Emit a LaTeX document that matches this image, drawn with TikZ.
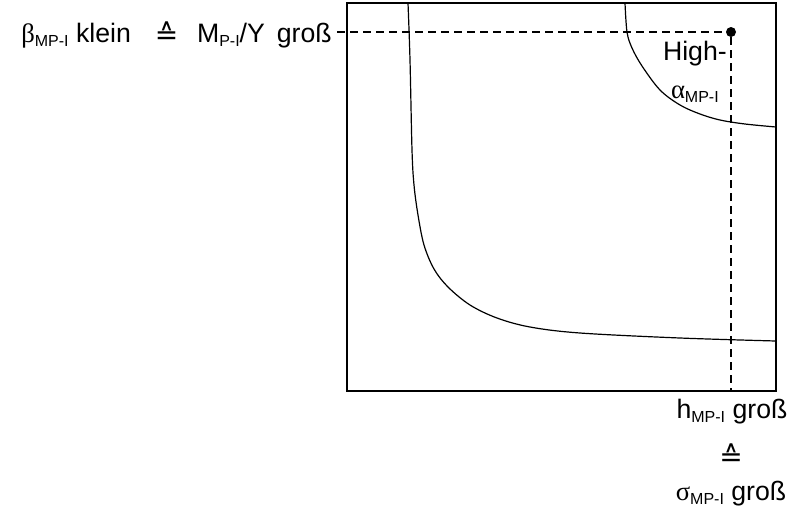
\documentclass[tikz,border=0pt]{standalone}
\usepackage{fontspec}
\setmainfont{Liberation Sans}
\newfontfamily\grk{Liberation Serif}
\newfontfamily\symf{DejaVu Sans}
\newcommand\lo[1]{\raisebox{-3.6pt}{\fontsize{12}{12}\selectfont #1}}
\newcommand\corr{\raisebox{-2pt}{\symf\fontsize{21}{21}\selectfont ≙}}
\usetikzlibrary{calc, positioning}

\begin{document}
\begin{tikzpicture}[
    x=0.75pt, y=-0.75pt,
    lbl/.style={inner sep=0pt, font=\fontsize{20}{24}\selectfont},
    frame/.style={draw, line width=1pt},
    curve/.style={line width=0.9pt, smooth, tension=0.55},
    guide/.style={line width=1.5pt, dash pattern=on 6pt off 3.75pt},
    hpdot/.style={circle, fill, inner sep=0pt, minimum size=7.5pt}
]
    \useasboundingbox (0,0) rectangle (795,515);

    % Diagram box
    \draw[frame] (347,3) rectangle (776,391);
    \coordinate (foot) at (731,391);

    % Iso-curves
    \draw[curve] plot coordinates {(408,3) (410,60) (412,150) (414,185) (418,215) (424,245)
        (434,269) (448,287) (470,305) (497,318) (530,327) (580,333) (680,338) (776,341)};
    \draw[curve] plot coordinates {(625,3) (627,32) (632,48) (642,66) (660,90) (680,105)
        (700,114) (720,120) (745,124) (776,127)};

    % High-alpha point
    \node[hpdot] (hp) at (731,32) {};
    \node[lbl, anchor=base east] (high) at (727,60) {High-};
    \node[lbl, anchor=base] (alpha) at ($(high.base)+(0,38)$) {{\grk α}\lo{MP-I}};

    % Axis labels
    \node[lbl, anchor=base east, inner xsep=3.75pt] (beta) at (337,42)
        {{\grk β}\lo{MP-I} klein\hspace{18pt}\corr\hspace{14pt}M\lo{P-I}/Y\hspace{9pt}groß};
    \node[lbl, anchor=base] (h) at (732,418) {h\lo{MP-I} groß};
    \node[lbl] (eq) at (731,455) {\corr};
    \node[lbl, anchor=base] (sigma) at (731,500) {{\grk σ}\lo{MP-I} groß};

    % Dashed guides
    \draw[guide] (beta.east |- hp) -- (hp);
    \draw[guide] (hp) -- (foot);

\end{tikzpicture}
\end{document}
